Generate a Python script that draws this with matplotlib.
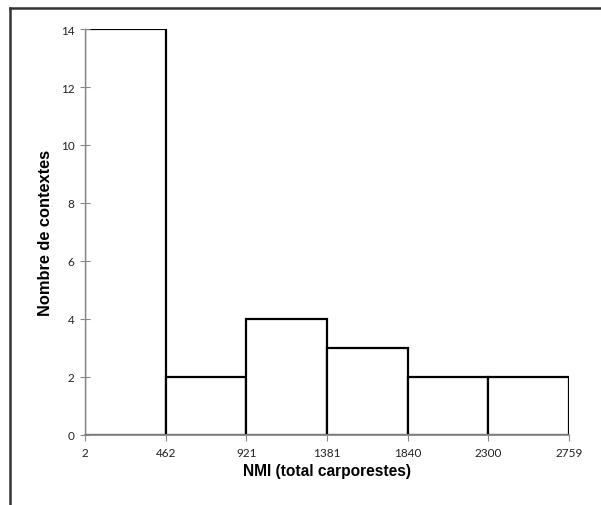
import matplotlib
matplotlib.use("Agg")
import matplotlib.pyplot as plt
import numpy as np
from matplotlib.lines import Line2D

# histogram of NMI values: bin edges and counts per bin
bin_edges = [2, 462, 921, 1381, 1840, 2300, 2759]
counts = [14, 2, 4, 3, 2, 2]
y_ticks = [0, 2, 4, 6, 8, 10, 12, 14]

fig = plt.figure(figsize=(6.01, 5.06), dpi=100)
ax = fig.add_axes([85 / 601, 70 / 506, 484 / 601, 406 / 506])

widths = np.diff(bin_edges)
ax.bar(bin_edges[:-1], counts, width=widths, align="edge",
       color="white", edgecolor="black", linewidth=1.6, zorder=1)

ax.set_xlim(bin_edges[0], bin_edges[-1])
ax.set_ylim(0, 14)
ax.set_xticks(bin_edges)
ax.set_xticklabels([str(v) for v in bin_edges])
ax.set_yticks(y_ticks)

for s in ("top", "right"):
    ax.spines[s].set_visible(False)
for s in ("left", "bottom"):
    ax.spines[s].set_color("#888888")
    ax.spines[s].set_linewidth(1.0)
    ax.spines[s].set_zorder(3)
ax.spines["bottom"].set_linewidth(1.3)

ax.tick_params(axis="y", direction="inout", length=7, color="#888888",
               labelsize=8.5, labelcolor="#222222", pad=4)
ax.tick_params(axis="x", direction="out", length=4, color="#888888",
               labelsize=8.5, labelcolor="#222222", pad=5)
for lab in ax.get_xticklabels() + ax.get_yticklabels():
    lab.set_family("Lato")

ax.set_xlabel("NMI (total carporestes)", fontsize=11.2, fontweight="bold",
              family="Liberation Sans", labelpad=3)
ax.set_ylabel("Nombre de contextes", fontsize=11.8, fontweight="bold",
              family="Liberation Sans", labelpad=6)

# outer frame (left and top only, as in the source screenshot)
fx = 10.5 / 601
fy = 1 - 8.5 / 506
fig.add_artist(Line2D([fx, fx], [0, fy], transform=fig.transFigure,
                      color="#333333", lw=1.8))
fig.add_artist(Line2D([fx, 1], [fy, fy], transform=fig.transFigure,
                      color="#333333", lw=1.8))

fig.savefig("out.png", dpi=100)
